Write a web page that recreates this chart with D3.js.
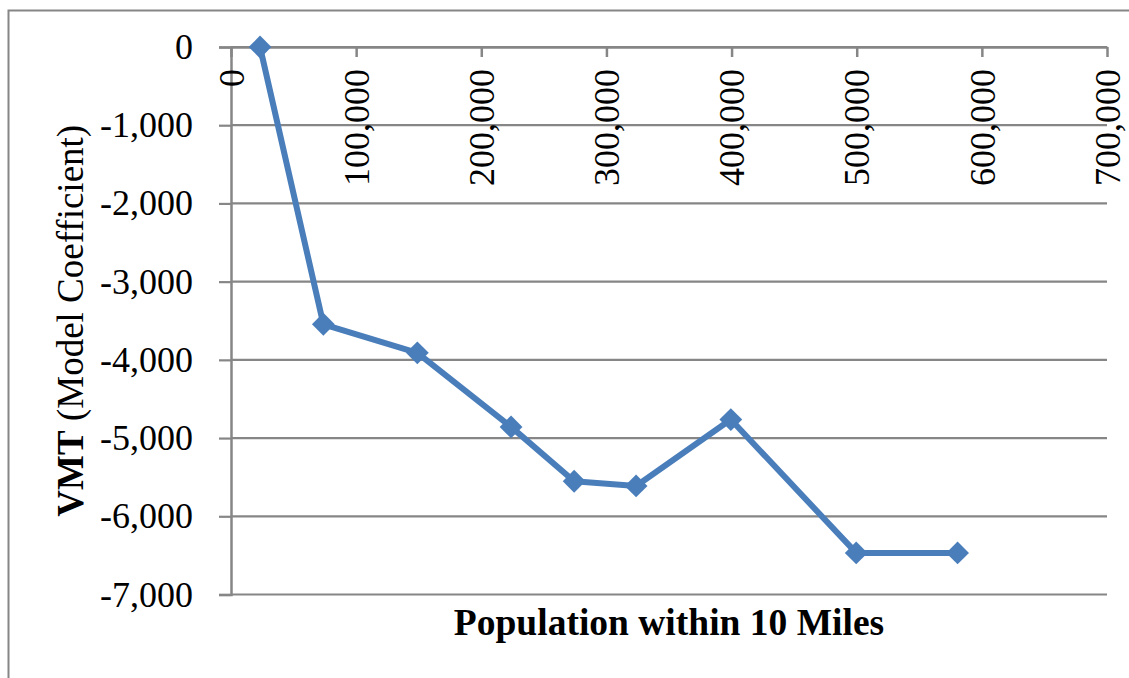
<!DOCTYPE html>
<html>
<head>
<meta charset="utf-8">
<script src="https://cdn.jsdelivr.net/npm/d3@7"></script>
<style>
  html, body { margin: 0; padding: 0; background: #fff; }
  svg { display: block; }
  text { font-family: "Liberation Serif", "Times New Roman", serif; fill: #000; }
</style>
</head>
<body>
<svg id="chart" width="1129" height="678"></svg>
<script>
// Population within 10 miles vs. VMT model coefficient
const population = [23200, 73800, 148900, 223800, 274200, 323700, 399400, 499600, 580600];
const vmtCoefficient = [0, -3545, -3910, -4857, -5552, -5612, -4763, -6468, -6468];
const xTicks = [0, 100000, 200000, 300000, 400000, 500000, 600000, 700000];
const yTicks = [0, -1000, -2000, -3000, -4000, -5000, -6000, -7000];
const xTitle = "Population within 10 Miles";
const yTitleBold = "VMT";
const yTitleRest = " (Model Coefficient)";

const svg = d3.select("#chart");
const W = 1129, H = 678;
const plot = { left: 231, right: 1107, top: 47, bottom: 594.5 };
const gridColor = "#868686";
const lineColor = "#4a7ebb";

// thousands separator with a plain hyphen for negatives
const fmt = d3.formatLocale({ decimal: ".", thousands: ",", grouping: [3], currency: ["", ""], minus: "-" }).format(",");

// chart area border
svg.append("rect")
  .attr("x", 8.5).attr("y", 10.5)
  .attr("width", W + 20).attr("height", H + 20)
  .attr("fill", "#fff").attr("stroke", gridColor).attr("stroke-width", 2);

const x = d3.scaleLinear().domain([0, 700000]).range([plot.left, plot.right]);
const y = d3.scaleLinear().domain([-7000, 0]).range([plot.bottom, plot.top]);

// horizontal gridlines
svg.append("g")
  .selectAll("line")
  .data(yTicks)
  .join("line")
  .attr("x1", plot.left).attr("x2", plot.right)
  .attr("y1", d => y(d)).attr("y2", d => y(d))
  .attr("stroke", gridColor).attr("stroke-width", 2.2);

// y axis
const yAxis = svg.append("g")
  .attr("transform", `translate(${plot.left},0)`)
  .call(d3.axisLeft(y).tickValues(yTicks).tickSize(12).tickPadding(26).tickFormat(fmt));
yAxis.select(".domain").attr("stroke", gridColor).attr("stroke-width", 2.5);
yAxis.selectAll(".tick line").attr("stroke", gridColor).attr("stroke-width", 2.2);
yAxis.selectAll(".tick text")
  .style("font-family", '"Liberation Serif", serif')
  .style("font-size", "36px").attr("fill", "#000");

// x axis along the zero line, labels rotated
const xAxis = svg.append("g")
  .attr("transform", `translate(0,${y(0)})`)
  .call(d3.axisBottom(x).tickValues(xTicks).tickSize(10).tickSizeOuter(0).tickFormat(fmt));
xAxis.select(".domain").attr("stroke", gridColor).attr("stroke-width", 2.5);
xAxis.selectAll(".tick line").attr("stroke", gridColor).attr("stroke-width", 2.5);
xAxis.selectAll(".tick text")
  .style("font-family", '"Liberation Serif", serif')
  .style("font-size", "36px").attr("fill", "#000")
  .attr("text-anchor", "end")
  .attr("x", 0).attr("y", 0).attr("dy", "0.34em")
  .attr("transform", "translate(0,22) rotate(-90)");

// data line
const pts = population.map((p, i) => [p, vmtCoefficient[i]]);
svg.append("path")
  .datum(pts)
  .attr("fill", "none")
  .attr("stroke", lineColor).attr("stroke-width", 6)
  .attr("stroke-linejoin", "round")
  .attr("d", d3.line().x(d => x(d[0])).y(d => y(d[1])));

// diamond markers
const diamond = d3.symbol().type(d3.symbolSquare).size(260);
svg.append("g")
  .selectAll("path")
  .data(pts)
  .join("path")
  .attr("d", diamond)
  .attr("transform", d => `translate(${x(d[0])},${y(d[1])}) rotate(45)`)
  .attr("fill", lineColor);

// axis titles
svg.append("text")
  .attr("x", (plot.left + plot.right) / 2).attr("y", 635)
  .attr("text-anchor", "middle")
  .style("font-size", "37.5px").style("font-weight", "bold")
  .text(xTitle);

const yt = svg.append("text")
  .attr("transform", `translate(83,${(plot.top + plot.bottom) / 2}) rotate(-90)`)
  .attr("text-anchor", "middle")
  .style("font-size", "37px");
yt.append("tspan").style("font-weight", "bold").text(yTitleBold);
yt.append("tspan").text(yTitleRest);
</script>
</body>
</html>
